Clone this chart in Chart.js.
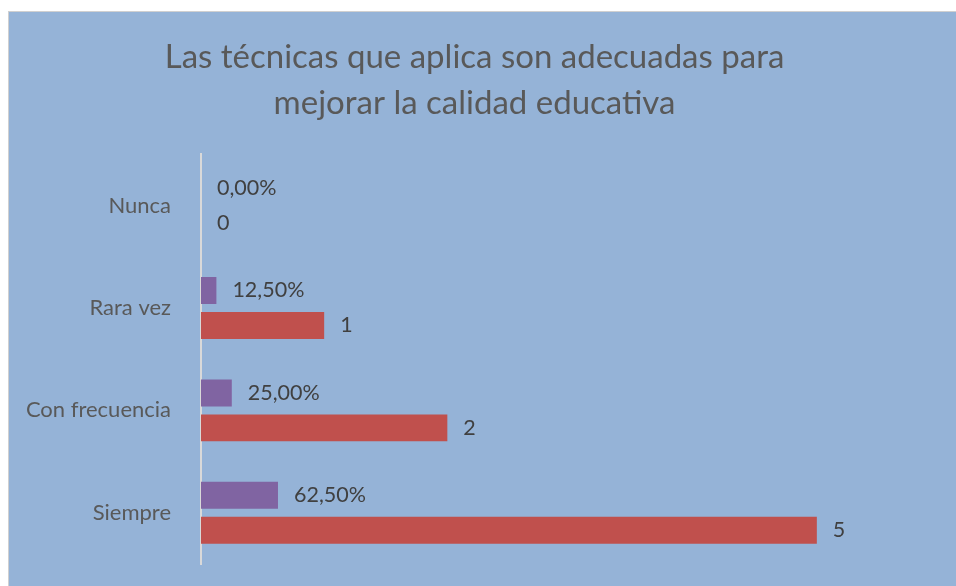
<!DOCTYPE html>
<html>
<head>
<meta charset="utf-8">
<script src="https://cdn.jsdelivr.net/npm/chart.js@4"></script>
<style>
    body { margin: 0; background: #ffffff; }
    #box {
        position: absolute; left: 8px; top: 11px;
        width: 948px; height: 575px;
        box-sizing: border-box;
        background: #95B3D7;
        border-top: 1px solid #d0d0d0;
        border-left: 1px solid #d0d0d0;
    }
    #chart { display: block; }
</style>
</head>
<body>
<div id="box"><canvas id="chart" width="947" height="574"></canvas></div>
<script>
// chart values
const categories = ['Nunca', 'Rara vez', 'Con frecuencia', 'Siempre'];
const percentValues = [0, 0.125, 0.25, 0.625];
const countValues = [0, 1, 2, 5];
const titleLines = ['Las técnicas que aplica son adecuadas para', 'mejorar la calidad educativa'];

const FONT = 'Lato, "Open Sans", sans-serif';

// draws the value next to every bar
const barLabels = {
    id: 'barLabels',
    afterDatasetsDraw(chart) {
        const ctx = chart.ctx;
        ctx.save();
        ctx.font = '21.5px ' + FONT;
        ctx.fillStyle = '#404040';
        ctx.textAlign = 'left';
        ctx.textBaseline = 'middle';
        chart.data.datasets.forEach((ds, i) => {
            const meta = chart.getDatasetMeta(i);
            meta.data.forEach((bar, j) => {
                const v = ds.data[j];
                const txt = i === 0
                    ? (v * 100).toFixed(2).replace('.', ',') + '%'
                    : String(v);
                ctx.fillText(txt, bar.x + 16, bar.y);
            });
        });
        ctx.restore();
    }
};

new Chart(document.getElementById('chart').getContext('2d'), {
    type: 'bar',
    data: {
        labels: categories,
        datasets: [
            {
                label: 'Porcentaje',
                data: percentValues,
                backgroundColor: '#8064A2',
                categoryPercentage: 0.683,
                barPercentage: 0.77
            },
            {
                label: 'Frecuencia',
                data: countValues,
                backgroundColor: '#C0504D',
                categoryPercentage: 0.683,
                barPercentage: 0.77
            }
        ]
    },
    options: {
        indexAxis: 'y',
        responsive: false,
        animation: false,
        layout: { padding: { top: 0, right: 16, bottom: 22, left: 0 } },
        plugins: {
            legend: { display: false },
            tooltip: { enabled: false },
            title: {
                display: true,
                text: titleLines,
                color: '#595959',
                font: { family: FONT, size: 33, weight: 'normal', lineHeight: 1.4 },
                padding: { top: 22, bottom: 28 }
            }
        },
        scales: {
            x: {
                display: false,
                min: 0,
                max: 6
            },
            y: {
                grid: { display: false },
                border: { display: true, color: '#d9d9d9', width: 2 },
                ticks: {
                    color: '#595959',
                    padding: 22,
                    font: { family: FONT, size: 22 }
                },
                afterFit(scale) {
                    scale.width = 192;
                    scale.paddingTop = 0;
                    scale.paddingBottom = 0;
                }
            }
        }
    },
    plugins: [barLabels]
});
</script>
</body>
</html>
